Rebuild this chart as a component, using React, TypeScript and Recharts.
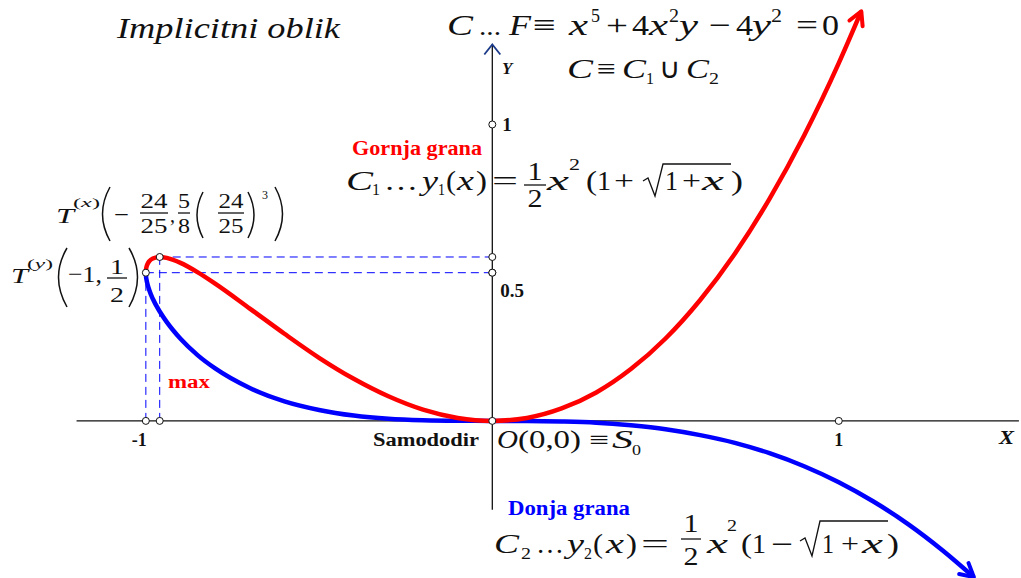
import React from 'react';
import { LineChart, Line, XAxis, YAxis, ReferenceLine, ReferenceDot } from 'recharts';

const W = 1021;
const H = 578;
const X_DOMAIN: [number, number] = [-1.421, 1.526];
const Y_DOMAIN: [number, number] = [-0.53, 1.42];

// gornja grana y1(x)
const upperX = [-1, -0.9995, -0.998, -0.995, -0.99, -0.98, -0.96, -0.94, -0.9, -0.85, -0.8, -0.7, -0.6, -0.5, -0.4, -0.3, -0.2, -0.1, 0, 0.1, 0.2, 0.3, 0.4, 0.5, 0.6, 0.7, 0.8, 0.9, 1.0, 1.065];
const upperY = [0.5, 0.511, 0.52, 0.53, 0.539, 0.548, 0.553, 0.55, 0.533, 0.501, 0.463, 0.379, 0.294, 0.213, 0.142, 0.083, 0.038, 0.01, 0, 0.01, 0.042, 0.096, 0.175, 0.278, 0.408, 0.564, 0.749, 0.963, 1.207, 1.382];

// donja grana y2(x)
const lowerX = [-1, -0.9995, -0.998, -0.995, -0.99, -0.98, -0.96, -0.94, -0.9, -0.85, -0.8, -0.7, -0.6, -0.5, -0.4, -0.3, -0.2, -0.1, 0, 0.1, 0.2, 0.3, 0.4, 0.5, 0.6, 0.7, 0.8, 0.9, 1.0, 1.1, 1.2, 1.3, 1.39];
const lowerY = [0.5, 0.488, 0.476, 0.46, 0.441, 0.412, 0.369, 0.334, 0.277, 0.221, 0.177, 0.111, 0.066, 0.037, 0.018, 0.007, 0.002, 0.0003, 0, -0.0002, -0.002, -0.006, -0.015, -0.028, -0.048, -0.074, -0.109, -0.153, -0.207, -0.272, -0.348, -0.437, -0.527];

const xTicks = [-1, 1];
const xTickLabels = ['-1', '1'];
const yTicks = [1, 0.5];
const yTickLabels = ['1', '0.5'];

// T(y) = (-1, 1/2), T(x) = (-24/25, 5/8 (24/25)^3)
const pointTy = { x: -1, y: 0.5 };
const pointTx = { x: -0.96, y: 0.553 };

const xAxisSpan = [-1.2, 1.52];
const yAxisSpan = [-0.3, 1.27];

const upperData = upperX.map((x, i) => ({ x, y: upperY[i] }));
const lowerData = lowerX.map((x, i) => ({ x, y: lowerY[i] }));

const pxX = W / (X_DOMAIN[1] - X_DOMAIN[0]);
const pxY = H / (Y_DOMAIN[1] - Y_DOMAIN[0]);

const SERIF = '"Liberation Serif", "Times New Roman", serif';
const INK = '#111';
const RED = '#ff0000';
const BLUE = '#0000ff';

// open arrow head at the last sample of a branch
const arrowDot = (data: { x: number; y: number }[], color: string) => (props: any) => {
  const { cx, cy, index } = props;
  if (index !== data.length - 1) return <g key={`d${index}`} />;
  const prev = data[index - 1];
  const cur = data[index];
  const ang = Math.atan2(-(cur.y - prev.y) * pxY, (cur.x - prev.x) * pxX);
  const len = 15;
  const a1 = ang + Math.PI - 0.5;
  const a2 = ang + Math.PI + 0.5;
  return (
    <path
      key={`arrow${index}`}
      d={`M${cx + len * Math.cos(a1)},${cy + len * Math.sin(a1)} L${cx},${cy} L${cx + len * Math.cos(a2)},${cy + len * Math.sin(a2)}`}
      stroke={color}
      strokeWidth={4}
      fill="none"
      strokeLinecap="round"
      strokeLinejoin="round"
    />
  );
};

const ring = (p: any) => (
  <circle cx={p.cx} cy={p.cy} r={3.5} fill="#fff" stroke={INK} strokeWidth={1} />
);

const tickDot = (label: string, dx: number, dy: number, anchor: 'start' | 'middle' | 'end', size: number) => (p: any) => (
  <g>
    <circle cx={p.cx} cy={p.cy} r={3.5} fill="#fff" stroke={INK} strokeWidth={1} />
    <text x={p.cx + dx} y={p.cy + dy} textAnchor={anchor} fontFamily={SERIF} fontWeight="bold" fontSize={size} fill={INK}>
      {label}
    </text>
  </g>
);

const yArrow = (p: any) => (
  <path
    d={`M${p.cx - 8},${p.cy + 10} L${p.cx},${p.cy} L${p.cx + 8},${p.cy + 10}`}
    stroke="#1b3a8a"
    strokeWidth={1.8}
    fill="none"
  />
);

type TxtProps = {
  x: number;
  y: number;
  s?: number;
  i?: boolean;
  b?: boolean;
  c?: string;
  a?: 'start' | 'middle' | 'end';
  w?: number;
  children: React.ReactNode;
};

// w stretches a piece to the given advance width
const Txt = ({ x, y, s = 27, i, b, c = INK, a = 'start', w, children }: TxtProps) => (
  <text
    x={x}
    y={y}
    fontSize={s}
    fontFamily={SERIF}
    fontStyle={i ? 'italic' : 'normal'}
    fontWeight={b ? 'bold' : 'normal'}
    fill={c}
    textAnchor={a}
    textLength={w}
    lengthAdjust={w ? 'spacingAndGlyphs' : undefined}
  >
    {children}
  </text>
);

type FracProps = { cx: number; bar: number; ny: number; dy: number; num: string; den: string; half: number; s?: number; tw?: number };

const Frac = ({ cx, bar, ny, dy, num, den, half, s = 25, tw }: FracProps) => (
  <g>
    <Txt x={cx} y={ny} s={s} a="middle" w={tw}>{num}</Txt>
    <line x1={cx - half} x2={cx + half} y1={bar} y2={bar} stroke={INK} strokeWidth={1.3} />
    <Txt x={cx} y={dy} s={s} a="middle" w={tw}>{den}</Txt>
  </g>
);

const Paren = ({ d }: { d: string }) => <path d={d} stroke={INK} strokeWidth={1.5} fill="none" />;

const Labels = () => (
  <svg width={W} height={H} style={{ position: 'absolute', left: 0, top: 0, pointerEvents: 'none' }}>
    <Txt x={117} y={38} s={30} i w={223}>Implicitni oblik</Txt>

    {/* C ... F = x^5 + 4x^2 y - 4y^2 = 0 */}
    <Txt x={447} y={35} s={30} i w={26}>C</Txt>
    <Txt x={479} y={35} s={26} w={22}>...</Txt>
    <Txt x={509} y={35} s={30} i w={22}>F</Txt>
    <Txt x={533} y={35} s={30} w={23}>≡</Txt>
    <Txt x={569} y={35} s={30} i w={19}>x</Txt>
    <Txt x={591} y={22} s={18} w={9}>5</Txt>
    <Txt x={606} y={35} s={30} w={22}>+</Txt>
    <Txt x={632} y={35} s={30} w={17}>4</Txt>
    <Txt x={649} y={35} s={30} i w={19}>x</Txt>
    <Txt x={669} y={22} s={18} w={10}>2</Txt>
    <Txt x={679} y={35} s={30} i w={19}>y</Txt>
    <Txt x={709} y={35} s={30} w={22}>−</Txt>
    <Txt x={736} y={35} s={30} w={17}>4</Txt>
    <Txt x={752} y={35} s={30} i w={19}>y</Txt>
    <Txt x={771} y={22} s={18} w={11}>2</Txt>
    <Txt x={796} y={35} s={30} w={22}>=</Txt>
    <Txt x={822} y={35} s={30} w={17}>0</Txt>

    <Txt x={567} y={78} s={28} i w={26}>C</Txt>
    <Txt x={597} y={78} s={28} w={19}>≡</Txt>
    <Txt x={622} y={78} s={28} i w={24}>C</Txt>
    <Txt x={646} y={84} s={17} w={8}>1</Txt>
    <Txt x={659} y={78} s={28} w={22}>∪</Txt>
    <Txt x={686} y={78} s={28} i w={23}>C</Txt>
    <Txt x={709} y={84} s={17} w={10}>2</Txt>

    <Txt x={502} y={74} s={17} b i>Y</Txt>

    {/* gornja grana */}
    <Txt x={352} y={155} s={20} b c={RED} w={130}>Gornja grana</Txt>
    <Txt x={346} y={190} i w={27}>C</Txt>
    <Txt x={372} y={195} s={17} w={8}>1</Txt>
    <Txt x={384} y={190} w={34}>…</Txt>
    <Txt x={422} y={190} i w={16}>y</Txt>
    <Txt x={438} y={195} s={17} w={7}>1</Txt>
    <Txt x={446} y={190} w={10}>(</Txt>
    <Txt x={457} y={190} i w={17}>x</Txt>
    <Txt x={476} y={190} w={11}>)</Txt>
    <Txt x={492} y={190} w={26}>=</Txt>
    <Frac cx={535} bar={185} ny={180} dy={207} num="1" den="2" half={11} tw={15} />
    <Txt x={547} y={190} i w={22}>x</Txt>
    <Txt x={569} y={170} s={17} w={11}>2</Txt>
    <Txt x={586} y={190} w={11}>(</Txt>
    <Txt x={597} y={190} w={14}>1</Txt>
    <Txt x={614} y={190} w={20}>+</Txt>
    <path d="M643,181 L648,178 L655,196 L663,164 L731,164" stroke={INK} strokeWidth={1.3} fill="none" />
    <Txt x={665} y={190} w={13}>1</Txt>
    <Txt x={682} y={190} w={19}>+</Txt>
    <Txt x={702} y={190} i w={22}>x</Txt>
    <Txt x={731} y={190} w={12}>)</Txt>

    {/* T(x) */}
    <Txt x={56} y={223} s={22} i w={18}>T</Txt>
    <Txt x={73} y={207} s={13} w={27}>(<tspan fontStyle="italic">x</tspan>)</Txt>
    <Paren d="M110,187 Q95,214 110,241" />
    <Txt x={114} y={222} s={22} w={15}>−</Txt>
    <Frac cx={154} bar={213} ny={208} dy={233} num="24" den="25" half={14} s={20} tw={27} />
    <Txt x={170} y={222} s={20}>,</Txt>
    <Frac cx={184} bar={213} ny={208} dy={233} num="5" den="8" half={6} s={20} tw={12} />
    <Paren d="M203,192 Q191,215 203,238" />
    <Frac cx={231} bar={213} ny={208} dy={233} num="24" den="25" half={13} s={20} tw={25} />
    <Paren d="M248,192 Q260,215 248,238" />
    <Txt x={262} y={199} s={12}>3</Txt>
    <Paren d="M275,187 Q290,214 275,241" />

    {/* T(y) */}
    <Txt x={11} y={283} s={22} i w={17}>T</Txt>
    <Txt x={27} y={268} s={13} w={26}>(<tspan fontStyle="italic">y</tspan>)</Txt>
    <Paren d="M67,248 Q50,277 67,307" />
    <Txt x={68} y={282} s={24} w={34}>−1,</Txt>
    <Frac cx={117} bar={278} ny={274} dy={302} num="1" den="2" half={10} s={22} tw={14} />
    <Paren d="M129,248 Q146,277 129,307" />

    <Txt x={168} y={388} s={18} b c={RED} w={42}>max</Txt>
    <Txt x={373} y={446} s={18} b w={106}>Samododir</Txt>
    <Txt x={999} y={444} s={19} b i w={15}>X</Txt>

    <Txt x={497} y={448} s={25} i w={21}>O</Txt>
    <Txt x={518} y={448} s={25} w={63}>(0,0)</Txt>
    <Txt x={589} y={448} s={25} w={20}>≡</Txt>
    <Txt x={612} y={448} s={25} i w={21}>S</Txt>
    <Txt x={632} y={455} s={15} w={9}>0</Txt>

    {/* donja grana */}
    <Txt x={508} y={515} s={20} b c={BLUE} w={122}>Donja grana</Txt>
    <Txt x={494} y={553} i w={25}>C</Txt>
    <Txt x={521} y={559} s={17} w={10}>2</Txt>
    <Txt x={536} y={553} w={28}>…</Txt>
    <Txt x={567} y={553} i w={17}>y</Txt>
    <Txt x={584} y={559} s={17} w={8}>2</Txt>
    <Txt x={593} y={553} w={10}>(</Txt>
    <Txt x={606} y={553} i w={18}>x</Txt>
    <Txt x={626} y={553} w={11}>)</Txt>
    <Txt x={641} y={553} w={28}>=</Txt>
    <Frac cx={691} bar={539} ny={532} dy={565} num="1" den="2" half={10} tw={15} />
    <Txt x={707} y={553} i w={21}>x</Txt>
    <Txt x={727} y={531} s={17} w={10}>2</Txt>
    <Txt x={741} y={553} w={11}>(</Txt>
    <Txt x={752} y={553} w={14}>1</Txt>
    <Txt x={771} y={553} w={22}>−</Txt>
    <path d="M800,541 L805,538 L812,556 L820,521 L888,521" stroke={INK} strokeWidth={1.3} fill="none" />
    <Txt x={822} y={553} w={12}>1</Txt>
    <Txt x={841} y={553} w={18}>+</Txt>
    <Txt x={862} y={553} i w={21}>x</Txt>
    <Txt x={887} y={553} w={12}>)</Txt>
  </svg>
);

const dash = { stroke: BLUE, strokeWidth: 1, strokeDasharray: '8 5' };

export default function App() {
  return (
    <div style={{ position: 'absolute', left: 0, top: 0, width: W, height: H, background: '#fff' }}>
      <LineChart width={W} height={H} margin={{ top: 0, right: 0, bottom: 0, left: 0 }}>
        <XAxis type="number" dataKey="x" domain={X_DOMAIN} allowDataOverflow hide />
        <YAxis type="number" dataKey="y" domain={Y_DOMAIN} allowDataOverflow hide />

        <ReferenceLine segment={[{ x: xAxisSpan[0], y: 0 }, { x: xAxisSpan[1], y: 0 }]} stroke={INK} strokeWidth={1.3} />
        <ReferenceLine segment={[{ x: 0, y: yAxisSpan[0] }, { x: 0, y: yAxisSpan[1] }]} stroke={INK} strokeWidth={1.3} />

        <ReferenceLine segment={[{ x: pointTx.x, y: pointTx.y }, { x: 0, y: pointTx.y }]} {...dash} />
        <ReferenceLine segment={[{ x: pointTy.x, y: pointTy.y }, { x: 0, y: pointTy.y }]} {...dash} />
        <ReferenceLine segment={[{ x: pointTy.x, y: 0 }, { x: pointTy.x, y: pointTy.y }]} {...dash} />
        <ReferenceLine segment={[{ x: pointTx.x, y: 0 }, { x: pointTx.x, y: pointTx.y }]} {...dash} />

        <Line
          data={lowerData}
          dataKey="y"
          type="monotone"
          stroke={BLUE}
          strokeWidth={4.5}
          dot={arrowDot(lowerData, BLUE)}
          activeDot={false}
          isAnimationActive={false}
        />
        <Line
          data={upperData}
          dataKey="y"
          type="monotone"
          stroke={RED}
          strokeWidth={4.5}
          dot={arrowDot(upperData, RED)}
          activeDot={false}
          isAnimationActive={false}
        />

        <ReferenceDot x={0} y={yAxisSpan[1]} shape={yArrow} />

        {xTicks.map((t, i) => (
          <ReferenceDot
            key={`xt${t}`}
            x={t}
            y={0}
            shape={tickDot(xTickLabels[i], t < 0 ? 1 : 0, 25, t < 0 ? 'end' : 'middle', 18)}
          />
        ))}
        {yTicks.map((t, i) => (
          <ReferenceDot
            key={`yt${t}`}
            x={0}
            y={t}
            shape={tickDot(yTickLabels[i], t === 1 ? 10 : 8, t === 1 ? 7 : 24, 'start', 19)}
          />
        ))}
        <ReferenceDot x={pointTx.x} y={0} shape={ring} />
        <ReferenceDot x={0} y={pointTx.y} shape={ring} />
        <ReferenceDot x={0} y={pointTy.y} shape={ring} />
        <ReferenceDot x={0} y={0} shape={ring} />
        <ReferenceDot x={pointTy.x} y={pointTy.y} shape={ring} />
        <ReferenceDot x={pointTx.x} y={pointTx.y} shape={ring} />
      </LineChart>
      <Labels />
    </div>
  );
}
